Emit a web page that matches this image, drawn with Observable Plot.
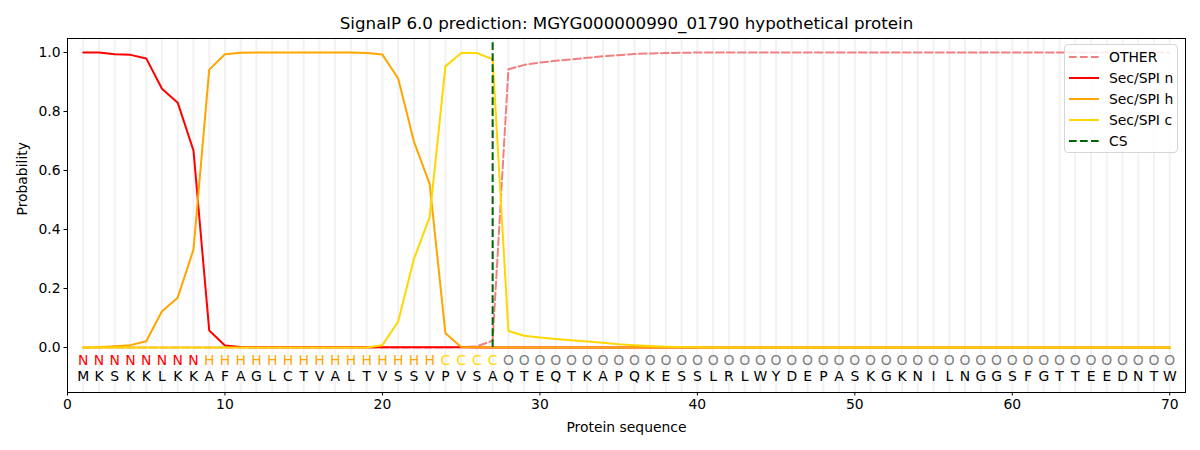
<!DOCTYPE html>
<html><head><meta charset="utf-8">
<script src="https://cdn.jsdelivr.net/npm/d3@7"></script>
<script src="https://cdn.jsdelivr.net/npm/@observablehq/plot@0.6"></script>
<style>
body{margin:0;background:#fff;font-family:"DejaVu Sans",sans-serif;}
#wrap{position:relative;width:1200px;height:450px;}
#legend{position:absolute;left:1064px;top:44px;width:114px;height:109px;border:1px solid #d6d6d6;border-radius:4px;background:rgba(255,255,255,0.85);box-sizing:border-box;padding-top:2px;}
.row{display:flex;align-items:center;height:20.8px;font-size:13.9px;color:#000;}
.row svg{margin-left:4px;margin-right:10px;}
</style>
</head><body>
<div id="wrap"><div id="chart"></div><div id="legend"></div></div>
<script>
const title = "SignalP 6.0 prediction: MGYG000000990_01790 hypothetical protein";
const sequence = "MKSKKLKKAFAGLCTVALTVSSVPVSAQTEQTKAPQKESSLRLWYDEPASKGKNILNGGSFGTTEEDNTW".split("");
const labels = "NNNNNNNNHHHHHHHHHHHHHHHCCCCOOOOOOOOOOOOOOOOOOOOOOOOOOOOOOOOOOOOOOOOOOO".split("");
const xTicks = [0, 10, 20, 30, 40, 50, 60, 70];
const yTicks = [0, 0.2, 0.4, 0.6, 0.8, 1.0];
const csPos = [27];

const other = [0,0,0,0,0,0,0,0,0,0, 0,0,0,0,0,0,0,0,0,0, 0,0,0,0,0.001,0.004,0.023,0.943,0.958,0.966,
  0.972,0.977,0.982,0.987,0.991,0.995,0.997,0.998,0.999,1.0, 1,1,1,1,1,1,1,1,1,1, 1,1,1,1,1,1,1,1,1,1, 1,1,1,1,1,1,1,1,1,1];
const secN = [1.0,1.0,0.994,0.992,0.98,0.877,0.83,0.668,0.058,0.007, 0.002,0.001,0.001,0.001,0.001,0.001,0.001,0.001,0.001,0.001,
  0.001,0.001,0.001,0.001,0.001,0,0,0,0,0, 0,0,0,0,0,0,0,0,0,0, 0,0,0,0,0,0,0,0,0,0, 0,0,0,0,0,0,0,0,0,0, 0,0,0,0,0,0,0,0,0,0];
const secH = [0,0.001,0.004,0.008,0.021,0.123,0.169,0.332,0.942,0.994, 0.999,1.0,1.0,1.0,1.0,1.0,1.0,1.0,0.998,0.993,
  0.912,0.698,0.555,0.048,0.002,0.001,0.001,0,0,0, 0,0,0,0,0,0,0,0,0,0, 0,0,0,0,0,0,0,0,0,0, 0,0,0,0,0,0,0,0,0,0, 0,0,0,0,0,0,0,0,0,0];
const secC = [0,0,0,0,0,0,0,0,0,0, 0,0,0,0,0,0,0,0,0,0.008,
  0.088,0.30,0.442,0.953,0.998,0.998,0.977,0.056,0.040,0.034, 0.029,0.025,0.020,0.016,0.011,0.008,0.005,0.003,0.002,0.001,
  0,0,0,0,0,0,0,0,0,0, 0,0,0,0,0,0,0,0,0,0, 0,0,0,0,0,0,0,0,0,0];

const labelColor = {N: "red", H: "orange", C: "gold", O: "gray"};
const pos = sequence.map((d, i) => i + 1);
const dash = "7.7,3.3";

const chart = Plot.plot({
  width: 1200, height: 450,
  marginLeft: 67, marginRight: 15, marginTop: 38, marginBottom: 58,
  style: {fontFamily: "DejaVu Sans, sans-serif", fontSize: "13.9px", color: "black", background: "white"},
  x: {domain: [0, 71]},
  y: {domain: [-0.1525, 1.0475]},
  color: {type: "identity"},
  marks: [
    Plot.ruleX(pos, {x: d => d, stroke: "#f2f2f2", strokeWidth: 2}),
    Plot.line(other, {x: (d, i) => i + 1, y: d => d, stroke: "lightcoral", strokeWidth: 2, strokeDasharray: dash}),
    Plot.line(secN, {x: (d, i) => i + 1, y: d => d, stroke: "red", strokeWidth: 2}),
    Plot.line(secH, {x: (d, i) => i + 1, y: d => d, stroke: "orange", strokeWidth: 2}),
    Plot.line(secC, {x: (d, i) => i + 1, y: d => d, stroke: "gold", strokeWidth: 2}),
    Plot.ruleX(csPos, {x: d => d, y1: 0, y2: 1.035, stroke: "darkgreen", strokeWidth: 2, strokeDasharray: dash}),
    Plot.text(labels, {x: (d, i) => i + 1, y: -0.045, text: d => d, fill: d => labelColor[d], fontSize: 13.9}),
    Plot.text(sequence, {x: (d, i) => i + 1, y: -0.1, text: d => d, fill: "black", fontSize: 13.9}),
    Plot.frame({stroke: "black", strokeWidth: 1}),
    Plot.axisX({ticks: xTicks, tickFormat: d => d, tickSize: 3.5, tickPadding: 3.5, label: null}),
    Plot.axisY({ticks: yTicks, tickFormat: d3.format(".1f"), tickSize: 3.5, tickPadding: 3.5, label: null}),
    Plot.text([title], {frameAnchor: "top", lineAnchor: "middle", dy: -15, fontSize: 16.7, fill: "black"}),
    Plot.text(["Protein sequence"], {frameAnchor: "bottom", lineAnchor: "middle", dy: 35, fontSize: 13.9, fill: "black"}),
    Plot.text(["Probability"], {frameAnchor: "left", lineAnchor: "middle", dx: -45, rotate: -90, fontSize: 13.9, fill: "black"})
  ]
});
document.getElementById("chart").appendChild(chart);

const legendItems = [
  {name: "OTHER", color: "lightcoral", dashed: true},
  {name: "Sec/SPI n", color: "red", dashed: false},
  {name: "Sec/SPI h", color: "orange", dashed: false},
  {name: "Sec/SPI c", color: "gold", dashed: false},
  {name: "CS", color: "darkgreen", dashed: true}
];
const lg = document.getElementById("legend");
for (const it of legendItems) {
  const row = document.createElement("div");
  row.className = "row";
  row.innerHTML = `<svg width="30" height="10"><line x1="0" y1="5" x2="30" y2="5" stroke="${it.color}" stroke-width="2" ${it.dashed ? `stroke-dasharray="${dash}"` : ""}/></svg><span>${it.name}</span>`;
  lg.appendChild(row);
}
</script>
</body></html>
